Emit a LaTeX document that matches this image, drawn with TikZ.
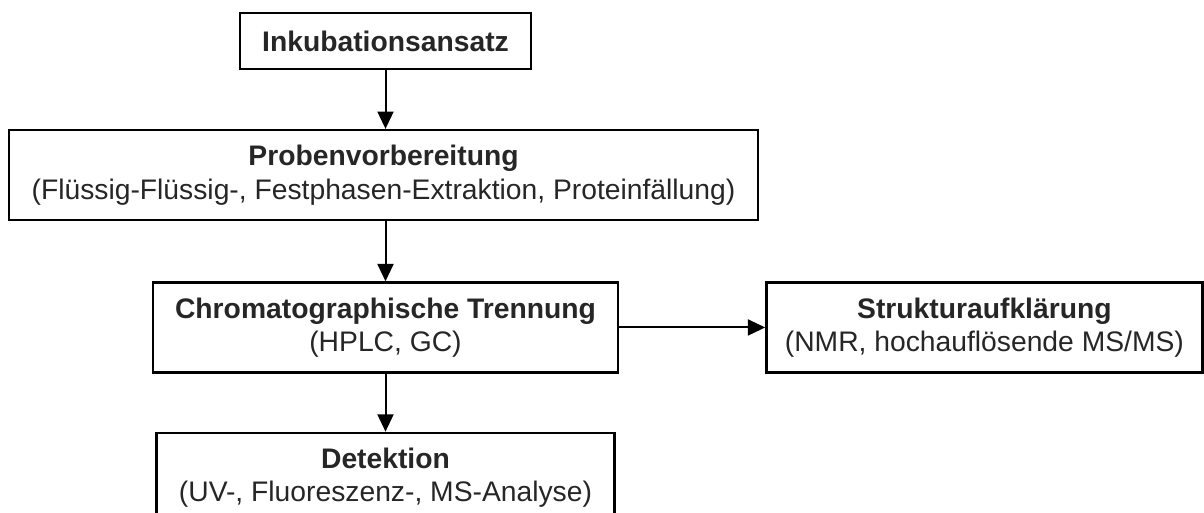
\documentclass[tikz,border=0pt]{standalone}
\usepackage{fontspec}
\setmainfont{Liberation Sans}
\usetikzlibrary{positioning, arrows.meta}
\tikzstyle{stage} = [rectangle, draw=black, line width=1.8pt, align=center, minimum height=67.5pt, inner sep=0pt, text=black!85, font=\fontsize{21.2}{25}\selectfont]
\tikzstyle{edge} = [line width=1.5pt, -{Triangle[length=13pt,width=12pt]}]

\begin{document}
\begin{tikzpicture}[x=0.75pt, y=-0.75pt]
\useasboundingbox (0,0) rectangle (1204,513);

\node (inkub) [stage, minimum width=218pt, minimum height=42pt] at (385.5,41) {\textbf{Inkubationsansatz}};
\node (probe) [stage, minimum width=561.75pt, below=44pt of inkub, xshift=-1.5pt] {\textbf{Probenvorbereitung}\\(Flüssig-Flüssig-, Festphasen-Extraktion, Proteinfällung)};
\node (chrom) [stage, minimum width=348.75pt, below=45pt of probe, xshift=1.5pt] {\textbf{Chromatographische Trennung}\\(HPLC, GC)};
\node (struktur) [stage, minimum width=327pt, right=109.5pt of chrom] {\textbf{Strukturaufklärung}\\(NMR, hochauflösende MS/MS)};
\node (detekt) [stage, minimum width=343.5pt, below=43.5pt of chrom] {\textbf{Detektion}\\(UV-, Fluoreszenz-, MS-Analyse)};

\draw [edge] (inkub) -- (inkub |- probe.north);
\draw [edge] (chrom |- probe.south) -- (chrom);
\draw [edge] (chrom) -- (struktur);
\draw [edge] (chrom) -- (detekt);

\end{tikzpicture}
\end{document}
